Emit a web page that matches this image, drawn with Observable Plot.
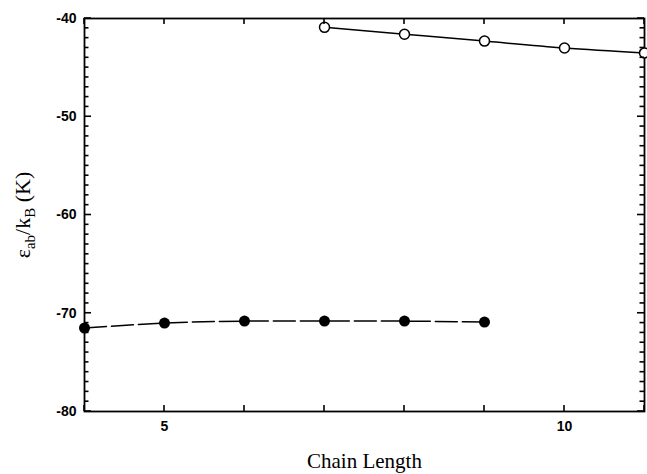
<!DOCTYPE html>
<html><head><meta charset="utf-8">
<script src="https://cdn.jsdelivr.net/npm/d3@7"></script>
<script src="https://cdn.jsdelivr.net/npm/@observablehq/plot@0.6"></script>
<style>body{margin:0;background:#fff}</style>
</head><body><div id="chart"></div>
<script>
const chainFilled = [4, 5, 6, 7, 8, 9];
const epsFilled = [-71.5, -71.0, -70.8, -70.8, -70.8, -70.9];
const chainOpen = [7, 8, 9, 10, 11];
const epsOpen = [-40.9, -41.6, -42.3, -43.0, -43.5];
const xMajor = [5, 10];
const xMinor = [4, 5, 6, 7, 8, 9, 10, 11];
const yMajor = [-80, -70, -60, -50, -40];
const yMinor = [-80,-79,-78,-77,-76,-75,-74,-73,-72,-71,-70,-69,-68,-67,-66,-65,-64,-63,-62,-61,-60,
  -59,-58,-57,-56,-55,-54,-53,-52,-51,-50,-49,-48,-47,-46,-45,-44,-43,-42,-41,-40];
const xDomain = [4, 11];
const yDomain = [-80, -40];
const xLabel = "Chain Length";
const yLabelKey = "YLABEL";

const filled = chainFilled.map((x, i) => ({x, y: epsFilled[i]}));
const open = chainOpen.map((x, i) => ({x, y: epsOpen[i]}));
const fmt = d => String(d);
const serif = "'Liberation Serif', 'Times New Roman', serif";

const plot = Plot.plot({
  width: 647, height: 474,
  marginLeft: 84, marginRight: 3, marginTop: 18, marginBottom: 63,
  x: {domain: xDomain, label: null},
  y: {domain: yDomain, label: null},
  style: {fontFamily: "'Liberation Sans', Arial, sans-serif", fontSize: "14px", fontWeight: "bold", color: "#000", background: "#fff", overflow: "visible"},
  marks: [
    Plot.axisX(xMajor, {anchor: "bottom", tickSize: 0, tickPadding: 10, tickFormat: fmt}),
    Plot.axisY(yMajor, {anchor: "left", tickSize: 0, tickPadding: 8, tickFormat: fmt}),
    Plot.frame({stroke: "#000", strokeWidth: 1.8}),
    Plot.line(filled, {x: "x", y: "y", curve: "natural", stroke: "#000", strokeWidth: 1.5, strokeDasharray: "22,5"}),
    Plot.dot(filled, {x: "x", y: "y", r: 5.5, fill: "#000"}),
    Plot.line(open, {x: "x", y: "y", curve: "natural", stroke: "#000", strokeWidth: 1.5}),
    Plot.dot(open, {x: "x", y: "y", r: 5, fill: "#fff", stroke: "#000", strokeWidth: 1.5}),
    Plot.text([xLabel], {frameAnchor: "bottom", lineAnchor: "bottom", textAnchor: "middle", dy: 56, fontFamily: serif, fontSize: 21, fontWeight: "normal"}),
    Plot.text([yLabelKey], {frameAnchor: "left", textAnchor: "middle", lineAnchor: "middle", dx: -62, rotate: -90, fontFamily: serif, fontSize: 22, fontWeight: "normal"})
  ]
});
d3.select(plot).selectAll("text").filter(function() { return this.textContent === yLabelKey; })
  .html('ε<tspan dy="5" font-size="15">ab</tspan><tspan dy="-5">/k</tspan><tspan dy="5" font-size="15">B</tspan><tspan dy="-5"> (K)</tspan>');

// inward ticks positioned through Plot's own scales
const sx = plot.scale("x"), sy = plot.scale("y");
const xl = sx.apply(xDomain[0]), xr = sx.apply(xDomain[1]);
const yb = sy.apply(yDomain[0]), yt = sy.apply(yDomain[1]);
const tg = d3.select(plot).append("g").attr("stroke", "#000").attr("stroke-width", 1.6).attr("fill", "none").attr("aria-label", "inward ticks");
xMinor.forEach(v => {
  const px = sx.apply(v);
  tg.append("path").attr("d", `M${px},${yb}V${yb - 6}`);
  tg.append("path").attr("d", `M${px},${yt}V${yt + 6}`);
});
yMinor.forEach(v => {
  const py = sy.apply(v);
  const len = yMajor.includes(v) ? 7 : 4.5;
  tg.append("path").attr("d", `M${xl},${py}H${xl + len}`);
  tg.append("path").attr("d", `M${xr},${py}H${xr - len}`);
});
document.getElementById("chart").append(plot);
</script>
</body></html>
